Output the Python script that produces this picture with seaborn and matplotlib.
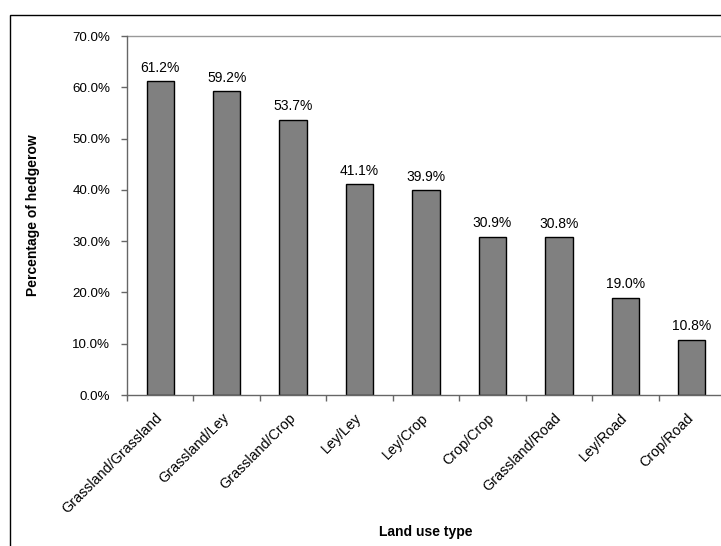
import matplotlib
matplotlib.use("Agg")
import matplotlib.pyplot as plt
import seaborn as sns
import pandas as pd
from matplotlib.patches import Rectangle
from matplotlib.ticker import FuncFormatter, FixedLocator

categories = ["Grassland/Grassland", "Grassland/Ley", "Grassland/Crop", "Ley/Ley",
              "Ley/Crop", "Crop/Crop", "Grassland/Road", "Ley/Road", "Crop/Road"]
values = [61.2, 59.2, 53.7, 41.1, 39.9, 30.9, 30.8, 19.0, 10.8]
y_ticks = [0, 10, 20, 30, 40, 50, 60, 70]
x_label = "Land use type"
y_label = "Percentage of hedgerow"

sns.set_theme(style="white")
plt.rcParams['font.family'] = ['Liberation Sans', 'DejaVu Sans']

df = pd.DataFrame({"cat": categories, "val": values})

W, H = 721, 546
fig = plt.figure(figsize=(W / 100, H / 100), dpi=100)
fig.patch.set_facecolor("white")
ax = fig.add_axes([127 / W, 1 - 395 / H, 598 / W, 359 / H])

sns.barplot(data=df, x="cat", y="val", color="#808080", edgecolor="black",
            linewidth=1.0, width=0.41, saturation=1, ax=ax)

ax.set_xlim(-0.5, len(categories) - 0.5)
ax.set_ylim(0, 70)
ax.set_yticks(y_ticks)
ax.yaxis.set_major_formatter(FuncFormatter(lambda v, p: f"{v:.1f}%"))
ax.tick_params(axis="y", which="major", direction="out", length=4, width=1,
               color="#666666", labelsize=9.6, labelcolor="black", pad=8, left=True)

# category labels at centers, boundary ticks as minor ticks
ax.set_xticks(range(len(categories)))
ax.set_xticklabels(categories, rotation=45, ha="right", va="center",
                   rotation_mode="anchor", fontsize=10.3, color="black")
ax.tick_params(axis="x", which="major", length=0, pad=15)
ax.xaxis.set_minor_locator(FixedLocator([i - 0.5 for i in range(len(categories) + 1)]))
ax.tick_params(axis="x", which="minor", direction="out", length=4, width=1,
               color="#666666", bottom=True)

for s in ["left", "bottom"]:
    ax.spines[s].set_color("#666666")
    ax.spines[s].set_linewidth(1.0)
ax.spines["right"].set_visible(False)
ax.spines["top"].set_visible(False)
ax.axhline(70, color="#999999", linewidth=1.0, clip_on=False, zorder=0)

for i, v in enumerate(values):
    ax.annotate(f"{v:.1f}%", (i, v), xytext=(0, 4.5), textcoords="offset points",
                ha="center", va="bottom", fontsize=10, color="black")

ax.set_xlabel(x_label, fontsize=10, fontweight="bold", color="black")
ax.set_ylabel(y_label, fontsize=10, fontweight="bold", color="black")
ax.xaxis.set_label_coords(0.5, (395 - 532) / 359)
ax.xaxis.label.set_va("center")
ax.yaxis.set_label_coords((33 - 127) / 598, 0.5)
ax.yaxis.label.set_va("center")

fig.patches.append(Rectangle((10 / W, -0.1), 1.2, 1 - 15 / H + 0.1,
                             transform=fig.transFigure, fill=False,
                             edgecolor="black", linewidth=1.0))

fig.savefig("out.png", dpi=100)
